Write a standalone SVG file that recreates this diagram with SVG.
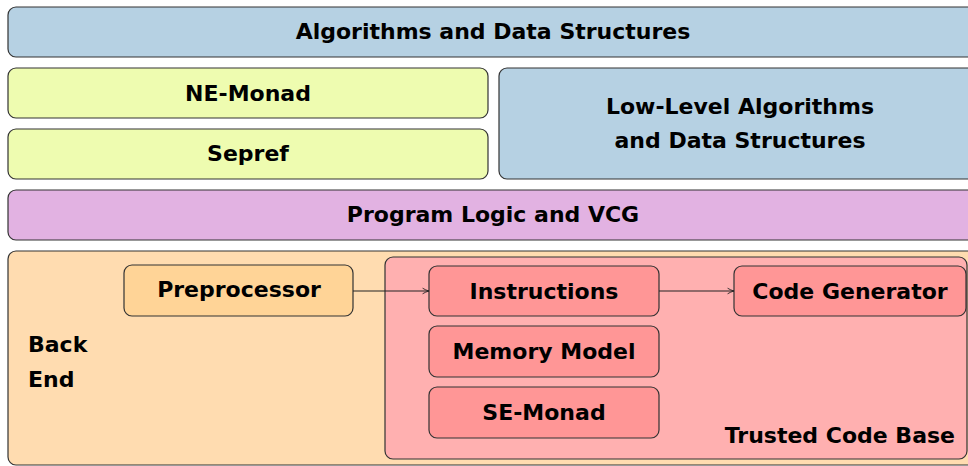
<svg xmlns="http://www.w3.org/2000/svg" width="968" height="466" viewBox="0 0 968 466">
  <defs>
    <marker id="arrow" viewBox="0 0 10 10" refX="9" refY="5" markerWidth="8" markerHeight="8" orient="auto" markerUnits="userSpaceOnUse">
      <path d="M1,1.5 Q5,4 9,5 Q5,6 1,8.5" fill="none" stroke="#222" stroke-width="1.1"/>
    </marker>
  </defs>
  <style>
    rect { stroke: #333; stroke-width: 1.2; }
    .blue { fill: #b6d1e3; }
    .lime { fill: #eefcb0; }
    .violet { fill: #e2b2e2; }
    .peach { fill: #ffdcb0; }
    .amber { fill: #ffd497; }
    .rose { fill: #ffb0b0; }
    .red { fill: #ff9696; }
    text { font-family: "DejaVu Sans", "Liberation Sans", sans-serif; font-weight: bold; font-size: 22px; fill: #000; }
    .c { text-anchor: middle; }
    .r { text-anchor: end; }
    .edge { stroke: #222; stroke-width: 1.1; fill: none; marker-end: url(#arrow); }
  </style>

  <g id="algorithms">
    <rect class="blue" x="8" y="7" width="975" height="50" rx="8"/>
    <text class="c" x="493" y="39">Algorithms and Data Structures</text>
  </g>
  <g id="ne-monad">
    <rect class="lime" x="8" y="68" width="480" height="50" rx="8"/>
    <text class="c" x="248" y="101">NE-Monad</text>
  </g>
  <g id="sepref">
    <rect class="lime" x="8" y="129" width="480" height="50" rx="8"/>
    <text class="c" x="248" y="161">Sepref</text>
  </g>
  <g id="low-level">
    <rect class="blue" x="499" y="68" width="484" height="111" rx="8"/>
    <text class="c" x="740" y="114">Low-Level Algorithms</text>
    <text class="c" x="740" y="148">and Data Structures</text>
  </g>
  <g id="program-logic">
    <rect class="violet" x="8" y="190" width="975" height="50" rx="8"/>
    <text class="c" x="493" y="222">Program Logic and VCG</text>
  </g>
  <g id="back-end">
    <rect class="peach" x="8" y="251" width="975" height="214" rx="8"/>
    <text x="28" y="352">Back</text>
    <text x="28" y="387">End</text>
  </g>
  <g id="trusted-code-base">
    <rect class="rose" x="385" y="257" width="582" height="202" rx="8"/>
    <text class="r" x="955" y="443">Trusted Code Base</text>
  </g>
  <g id="preprocessor">
    <rect class="amber" x="124" y="265" width="229" height="51" rx="8"/>
    <text class="c" x="239" y="297">Preprocessor</text>
  </g>
  <g id="instructions">
    <rect class="red" x="429" y="266" width="230" height="50" rx="8"/>
    <text class="c" x="544" y="299">Instructions</text>
  </g>
  <g id="memory-model">
    <rect class="red" x="429" y="326" width="230" height="51" rx="8"/>
    <text class="c" x="544" y="359">Memory Model</text>
  </g>
  <g id="se-monad">
    <rect class="red" x="429" y="387" width="230" height="51" rx="8"/>
    <text class="c" x="544" y="420">SE-Monad</text>
  </g>
  <g id="code-generator">
    <rect class="red" x="734" y="266" width="232" height="50" rx="8"/>
    <text class="c" x="850" y="299">Code Generator</text>
  </g>

  <g id="connectors">
    <line class="edge" x1="353" y1="291" x2="429" y2="291"/>
    <line class="edge" x1="659" y1="291" x2="734" y2="291"/>
  </g>
</svg>
